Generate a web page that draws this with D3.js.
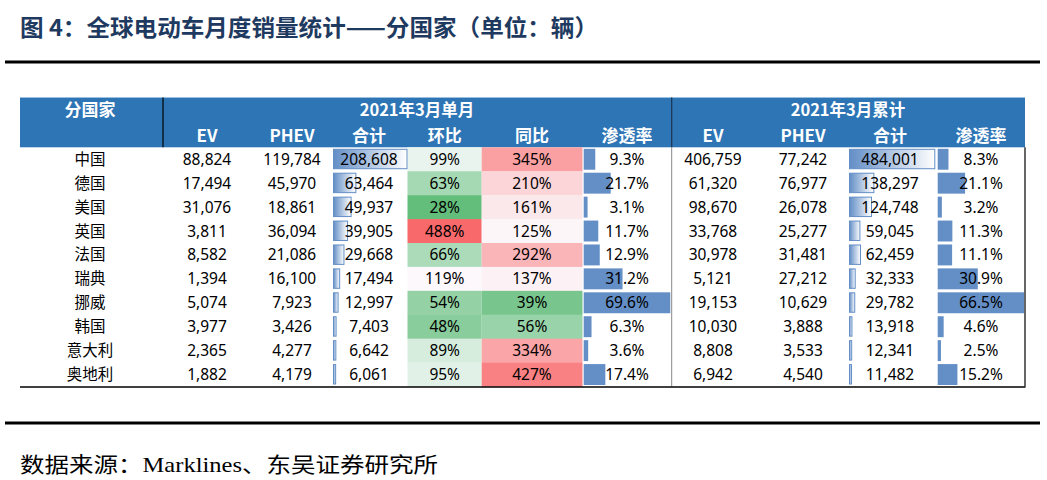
<!DOCTYPE html>
<html><head><meta charset="utf-8">
<script src="https://cdn.jsdelivr.net/npm/d3@7"></script>
<style>
html,body{margin:0;padding:0;background:#fff;}
svg{display:block;}
</style></head>
<body>
<svg id="c" width="1047" height="480"></svg>
<script>
const titleText = "图 4：全球电动车月度销量统计——分国家（单位：辆）";
const sourceText = "数据来源：Marklines、东吴证券研究所";
const groupLabels = ["2021年3月单月", "2021年3月累计"];
const colLabels = ["EV", "PHEV", "合计", "环比", "同比", "渗透率", "EV", "PHEV", "合计", "渗透率"];
const countries = ["中国","德国","美国","英国","法国","瑞典","挪威","韩国","意大利","奥地利"];
const evMonth = [88824,17494,31076,3811,8582,1394,5074,3977,2365,1882];
const phevMonth = [119784,45970,18861,36094,21086,16100,7923,3426,4277,4179];
const totalMonth = [208608,63464,49937,39905,29668,17494,12997,7403,6642,6061];
const momPct = [99,63,28,488,66,119,54,48,89,95];
const yoyPct = [345,210,161,125,292,137,39,56,334,427];
const shareMonth = [9.3,21.7,3.1,11.7,12.9,31.2,69.6,6.3,3.6,17.4];
const evCum = [406759,61320,98670,33768,30978,5121,19153,10030,8808,6942];
const phevCum = [77242,76977,26078,25277,31481,27212,10629,3888,3533,4540];
const totalCum = [484001,138297,124748,59045,62459,32333,29782,13918,12341,11482];
const shareCum = [8.3,21.1,3.2,11.3,11.1,30.9,66.5,4.6,2.5,15.2];

const svg = d3.select("#c");
const fmt = d3.format(",");
const pct0 = v => v + "%";
const pct1 = v => d3.format(".1f")(v) + "%";

// title
svg.append("text").attr("x", 20).attr("y", 36)
  .attr("font-family", "'Noto Sans CJK SC', sans-serif").attr("font-weight", 700)
  .attr("font-size", 23).attr("fill", "#1f3a60")
  .attr("textLength", 578).attr("lengthAdjust", "spacingAndGlyphs")
  .text(titleText);
svg.append("line").attr("x1", 5).attr("x2", 1040).attr("y1", 62).attr("y2", 62)
  .attr("stroke", "#000").attr("stroke-width", 3);
svg.append("line").attr("x1", 5).attr("x2", 1040).attr("y1", 423).attr("y2", 423)
  .attr("stroke", "#000").attr("stroke-width", 3);
svg.append("text").attr("x", 20).attr("y", 472)
  .attr("font-family", "'Liberation Serif', 'Noto Sans CJK SC', serif")
  .attr("font-size", 21).attr("fill", "#000")
  .attr("textLength", 418).attr("lengthAdjust", "spacingAndGlyphs")
  .text(sourceText);

// table geometry
const tL = 20, tR = 1025, hTop = 97.5, hBot = 147.3, tBot = 386.5, divX = 671.7, cDiv = 163;
const y = d3.scaleBand().domain(countries).range([hBot, tBot]).padding(0);
const rh = y.bandwidth();

// columns: [x0, x1, textCenter]
const cols = [
  {x0:163, x1:250, cx:207},
  {x0:250, x1:333, cx:292},
  {x0:333, x1:407.5, cx:369},
  {x0:407.5, x1:481.7, cx:444.7},
  {x0:481.7, x1:582.5, cx:532},
  {x0:583.7, x1:670.3, cx:627},
  {x0:672, x1:755, cx:713},
  {x0:755, x1:849, cx:803},
  {x0:849, x1:935.3, cx:890},
  {x0:937.7, x1:1024, cx:981}
];

// header
svg.append("rect").attr("x", tL).attr("y", hTop).attr("width", tR - tL).attr("height", hBot - hTop).attr("fill", "#2e75b6");
svg.append("line").attr("x1", tL).attr("x2", tR).attr("y1", hTop).attr("y2", hTop).attr("stroke", "#9dbfe0").attr("stroke-width", 1);
svg.append("line").attr("x1", cDiv).attr("x2", cDiv).attr("y1", hTop).attr("y2", hBot).attr("stroke", "#000").attr("stroke-width", 1.2);
svg.append("line").attr("x1", divX).attr("x2", divX).attr("y1", hTop).attr("y2", hBot).attr("stroke", "#1c3550").attr("stroke-width", 1.2);
svg.append("line").attr("x1", divX).attr("x2", divX).attr("y1", hBot).attr("y2", tBot).attr("stroke", "#888").attr("stroke-width", 1);

const hFont = "'Noto Sans CJK SC', sans-serif";
svg.append("text").attr("x", 90).attr("y", 116).attr("text-anchor", "middle")
  .attr("font-family", hFont).attr("font-weight", 700).attr("font-size", 17).attr("fill", "#fff").text("分国家");
svg.selectAll("text.grp").data(groupLabels).join("text").attr("class", "grp")
  .attr("x", (d, i) => i === 0 ? 417 : 848).attr("y", 116).attr("text-anchor", "middle")
  .attr("font-family", hFont).attr("font-weight", 700).attr("font-size", 16.5).attr("fill", "#fff").text(d => d);
svg.selectAll("text.col").data(colLabels).join("text").attr("class", "col")
  .attr("x", (d, i) => cols[i].cx).attr("y", 141.5).attr("text-anchor", "middle")
  .attr("font-family", hFont).attr("font-weight", 700).attr("font-size", 17).attr("fill", "#fff").text(d => d);

// color scale for 环比/同比 (3-colour scale: min, median, max over both columns)
const allPct = momPct.concat(yoyPct);
const colorScale = d3.scaleLinear()
  .domain([d3.min(allPct), d3.median(allPct), d3.max(allPct)])
  .range(["#63be7b", "#fcfcff", "#f8696b"])
  .interpolate(d3.interpolateRgb);

const rows = countries.map((c, i) => ({c, i}));
const g = svg.append("g");

// colored cells
[[3, momPct], [4, yoyPct]].forEach(([ci, arr]) => {
  g.selectAll(null).data(rows).join("rect")
    .attr("x", cols[ci].x0).attr("width", cols[ci].x1 - cols[ci].x0)
    .attr("y", d => y(d.c)).attr("height", rh + 0.3)
    .attr("fill", d => colorScale(arr[d.i]));
});

// gradient def
const defs = svg.append("defs");
const grad = defs.append("linearGradient").attr("id", "bargrad").attr("x1", "0").attr("x2", "1").attr("y1", "0").attr("y2", "0");
grad.append("stop").attr("offset", "0").attr("stop-color", "#638ec6");
grad.append("stop").attr("offset", "1").attr("stop-color", "#ffffff");

// gradient data bars for totals
[[2, totalMonth], [8, totalCum]].forEach(([ci, arr]) => {
  const w = d3.scaleLinear().domain([0, d3.max(arr)]).range([0, cols[ci].x1 - cols[ci].x0 - 1]);
  g.selectAll(null).data(rows).join("rect")
    .attr("x", cols[ci].x0 + 0.5).attr("y", d => y(d.c) + 2)
    .attr("width", d => w(arr[d.i])).attr("height", rh - 4.5)
    .attr("fill", "url(#bargrad)").attr("stroke", "#638ec6").attr("stroke-width", 1);
});
// solid data bars for share
[[5, shareMonth], [9, shareCum]].forEach(([ci, arr]) => {
  const w = d3.scaleLinear().domain([0, d3.max(arr)]).range([0, cols[ci].x1 - cols[ci].x0]);
  g.selectAll(null).data(rows).join("rect")
    .attr("x", cols[ci].x0).attr("y", d => y(d.c) + 1.5)
    .attr("width", d => w(arr[d.i])).attr("height", rh - 3)
    .attr("fill", "#638ec6");
});

// texts
const dFont = "'Noto Sans', 'Noto Sans CJK SC', sans-serif";
function colText(cx, arr, f) {
  g.selectAll(null).data(rows).join("text")
    .attr("x", cx).attr("y", d => y(d.c) + rh / 2 + 5.5)
    .attr("text-anchor", "middle").attr("font-family", dFont).attr("font-size", 15.5).attr("fill", "#000")
    .text(d => f(arr[d.i]));
}
colText(90, countries, d => d);
colText(cols[0].cx, evMonth, fmt);
colText(cols[1].cx, phevMonth, fmt);
colText(cols[2].cx, totalMonth, fmt);
colText(cols[3].cx, momPct, pct0);
colText(cols[4].cx, yoyPct, pct0);
colText(cols[5].cx, shareMonth, pct1);
colText(cols[6].cx, evCum, fmt);
colText(cols[7].cx, phevCum, fmt);
colText(cols[8].cx, totalCum, fmt);
colText(cols[9].cx, shareCum, pct1);

// borders
svg.append("line").attr("x1", tL).attr("x2", tR + 0.5).attr("y1", tBot + 0.5).attr("y2", tBot + 0.5).attr("stroke", "#000").attr("stroke-width", 1.5);
svg.append("line").attr("x1", tR).attr("x2", tR).attr("y1", hBot).attr("y2", tBot).attr("stroke", "#000").attr("stroke-width", 1.2);
</script>
</body></html>
